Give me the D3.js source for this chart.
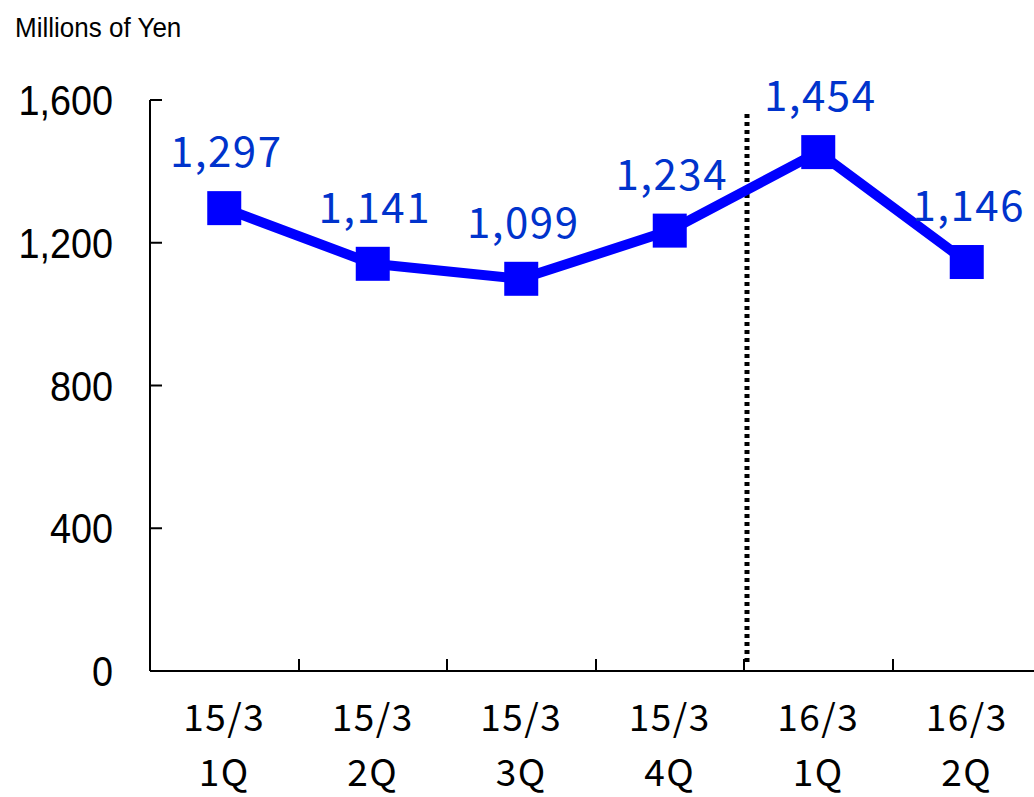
<!DOCTYPE html>
<html>
<head>
<meta charset="utf-8">
<script src="https://cdn.jsdelivr.net/npm/d3@7"></script>
<style>
  html, body { margin: 0; padding: 0; background: #fff; }
  svg { display: block; }
</style>
</head>
<body>
<div id="chart"></div>
<script>
// quarter labels, two lines each
const periods = ["15/3", "15/3", "15/3", "15/3", "16/3", "16/3"];
const quarters = ["1Q", "2Q", "3Q", "4Q", "1Q", "2Q"];
const values = [1297, 1141, 1099, 1234, 1454, 1146];
const yTicks = [0, 400, 800, 1200, 1600];
const unitLabel = "Millions of Yen";

const width = 1034, height = 797;
const plotLeft = 150, plotBottom = 671, plotTop = 100;

const svg = d3.select("#chart").append("svg")
  .attr("width", width)
  .attr("height", height);

const ids = periods.map((p, i) => i);
const x = d3.scaleBand().domain(ids).range([plotLeft, plotLeft + 6 * 148.5]).padding(0);
const y = d3.scaleLinear().domain([0, 1600]).range([plotBottom, plotTop]);

// unit label
svg.append("text")
  .attr("transform", "translate(15,37) scale(0.93,1)")
  .attr("font-family", "Liberation Sans, Arial, sans-serif")
  .attr("font-size", 28)
  .attr("fill", "#000")
  .text(unitLabel);

// y axis
svg.append("line")
  .attr("x1", plotLeft).attr("x2", plotLeft)
  .attr("y1", y(1600)).attr("y2", plotBottom)
  .attr("stroke", "#000").attr("stroke-width", 2);

svg.selectAll(".ytick").data(yTicks).enter().append("line")
  .attr("x1", plotLeft).attr("x2", plotLeft + 12)
  .attr("y1", d => y(d)).attr("y2", d => y(d))
  .attr("stroke", "#000").attr("stroke-width", 2);

svg.selectAll(".ylab").data(yTicks).enter().append("text")
  .attr("transform", d => "translate(113," + (y(d) + 15) + ") scale(0.9,1)")
  .attr("text-anchor", "end")
  .attr("font-family", "Liberation Sans, Arial, sans-serif")
  .attr("font-size", 42)
  .attr("fill", "#000")
  .text(d => d3.format(",")(d));

// x axis
svg.append("line")
  .attr("x1", plotLeft).attr("x2", width)
  .attr("y1", plotBottom).attr("y2", plotBottom)
  .attr("stroke", "#000").attr("stroke-width", 2);

svg.selectAll(".xtick").data(ids.slice(1)).enter().append("line")
  .attr("x1", d => Math.round(x(d))).attr("x2", d => Math.round(x(d)))
  .attr("y1", plotBottom).attr("y2", plotBottom - 12)
  .attr("stroke", "#000").attr("stroke-width", 2);

// two separate text rows under each category
const labelFont = {family: "Noto Sans CJK JP, sans-serif", size: 37};
[[periods, 731], [quarters, 786]].forEach(([rows, yPos]) => {
  svg.selectAll(null).data(ids).enter().append("text")
    .attr("x", d => x(d) + x.bandwidth() / 2)
    .attr("y", yPos)
    .attr("text-anchor", "middle")
    .attr("font-family", labelFont.family)
    .attr("font-size", labelFont.size)
    .attr("letter-spacing", 1.5)
    .attr("fill", "#000")
    .text(d => rows[d]);
});

// dotted divider between fiscal years
svg.append("line")
  .attr("x1", x(4) + 3).attr("x2", x(4) + 3)
  .attr("y1", 114).attr("y2", 662)
  .attr("stroke", "#000").attr("stroke-width", 5)
  .attr("stroke-dasharray", "4,4");

// line series
const cx = i => x(i) + x.bandwidth() / 2;
const line = d3.line().x((d, i) => cx(i)).y(d => y(d));
svg.append("path")
  .datum(values)
  .attr("d", line)
  .attr("fill", "none")
  .attr("stroke", "#0000ff")
  .attr("stroke-width", 10)
  .attr("stroke-linejoin", "round");

svg.selectAll(".marker").data(values).enter().append("rect")
  .attr("x", (d, i) => cx(i) - 17)
  .attr("y", d => y(d) - 17)
  .attr("width", 34).attr("height", 34)
  .attr("fill", "#0000ff");

svg.selectAll(".vlab").data(values).enter().append("text")
  .attr("x", (d, i) => cx(i) + 2)
  .attr("y", d => y(d) - 41)
  .attr("text-anchor", "middle")
  .attr("font-family", "Noto Sans CJK JP, sans-serif")
  .attr("font-size", 42)
  .attr("letter-spacing", 1.5)
  .attr("fill", "#0033cc")
  .text(d => d3.format(",")(d));
</script>
</body>
</html>
